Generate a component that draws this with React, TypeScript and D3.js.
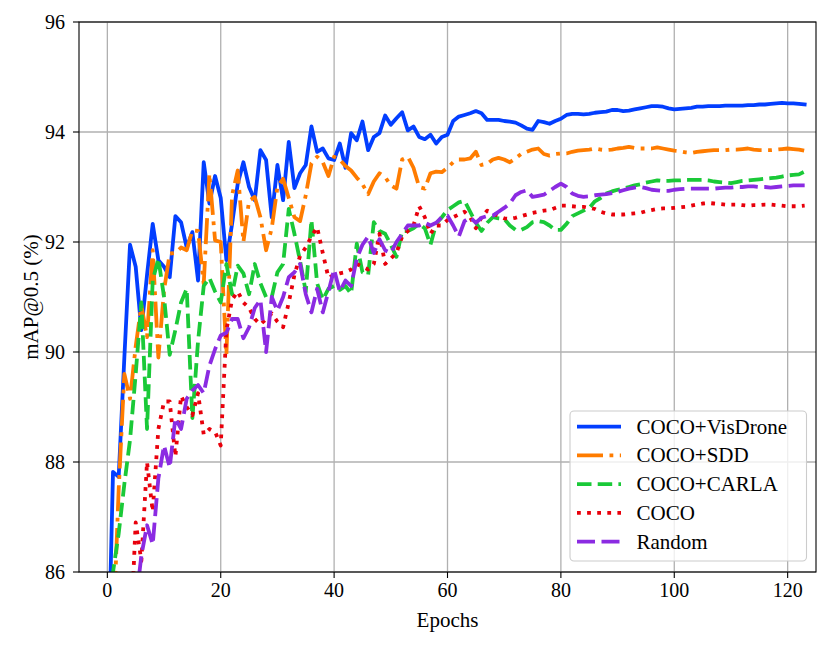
import * as d3 from 'd3';

// mAP@0.5 per epoch, index = epoch (0..123)
const cocoVisDrone = [
  83.5, 87.82, 87.73, 89.9, 91.95, 91.55, 90.4, 91.4, 92.33, 91.67,
  91.55, 91.36, 92.47, 92.36, 91.9, 92.18, 91.3, 93.45, 92.7, 93.2,
  92.8, 91.67, 92.33, 93.06, 93.45, 93.0, 92.76, 93.67, 93.49, 92.45,
  93.4, 92.76, 93.82, 92.98, 93.25, 93.4, 94.1, 93.64, 93.7, 93.52,
  93.49, 93.79, 93.35, 93.98, 93.85, 94.19, 93.67, 93.91, 93.98, 94.3,
  94.13, 94.25, 94.36, 94.03, 94.1, 93.91, 93.87, 93.95, 93.79, 93.91,
  93.95, 94.2, 94.28, 94.31, 94.34, 94.38, 94.34, 94.22, 94.22, 94.22,
  94.2, 94.19, 94.17, 94.12, 94.06, 94.04, 94.2, 94.18, 94.15, 94.2,
  94.24, 94.31, 94.33, 94.33, 94.32, 94.33, 94.35, 94.36, 94.37, 94.4,
  94.4, 94.38, 94.39, 94.41, 94.43, 94.45, 94.47, 94.47, 94.46, 94.43,
  94.41, 94.42, 94.43, 94.44, 94.46, 94.46, 94.47, 94.47, 94.47, 94.48,
  94.48, 94.48, 94.48, 94.49, 94.49, 94.5, 94.5, 94.51, 94.52, 94.53,
  94.52, 94.52, 94.51, 94.5,
];

const cocoSdd = [
  84.0, 84.8, 87.5, 89.6, 89.15, 90.1, 90.85, 90.27, 91.85, 89.9,
  91.12, 91.79, 91.8, 91.9, 91.85, 92.21, 92.2, 91.24, 93.24, 92.03,
  92.0, 89.95, 92.85, 93.3, 92.0, 92.75, 92.82, 92.45, 91.85, 92.25,
  93.0, 93.15, 92.8, 92.45, 92.38, 92.85, 93.43, 93.55, 93.45, 93.2,
  93.55, 93.5, 93.38, 93.3, 93.17, 93.05, 92.87, 93.1, 93.25, 93.18,
  93.03, 92.97, 93.5, 93.55, 93.35, 93.0, 92.97, 93.25, 93.28, 93.27,
  93.35, 93.45, 93.5, 93.5, 93.52, 93.64, 93.4, 93.42, 93.5, 93.53,
  93.5, 93.45, 93.52, 93.6, 93.64, 93.68, 93.7, 93.6, 93.57, 93.6,
  93.61, 93.61, 93.64, 93.66, 93.67, 93.68, 93.7, 93.68, 93.67, 93.68,
  93.7, 93.71, 93.73, 93.71, 93.7, 93.7, 93.7, 93.72, 93.7, 93.68,
  93.66, 93.65, 93.63, 93.62, 93.64, 93.65, 93.66, 93.67, 93.67, 93.67,
  93.68, 93.68, 93.69, 93.7, 93.68, 93.67, 93.67, 93.67, 93.68, 93.69,
  93.7, 93.69, 93.68, 93.66,
];

const cocoCarla = [
  84.0, 86.0, 86.7, 87.6, 88.4, 89.6, 90.9, 88.6, 91.3, 91.7,
  91.0, 89.95, 90.4, 90.9, 91.15, 88.8, 90.2, 91.2, 91.35, 91.1,
  90.9, 91.6, 91.05, 91.57, 91.43, 91.05, 91.6, 91.25, 91.0, 91.0,
  91.45, 91.6, 92.6, 92.15, 91.65, 91.1, 92.4, 91.25, 90.95, 91.15,
  91.2, 91.13, 91.2, 91.06, 91.97, 91.45, 91.4, 92.36, 92.2, 92.15,
  91.95, 91.73, 92.2, 92.2, 92.25, 92.33, 92.25, 91.95, 92.33, 92.45,
  92.58, 92.65, 92.72, 92.75, 92.55, 92.35, 92.2, 92.35, 92.45, 92.43,
  92.42, 92.3, 92.22, 92.22, 92.27, 92.36, 92.38, 92.36, 92.3, 92.22,
  92.22, 92.33, 92.47, 92.52, 92.57, 92.62, 92.74, 92.8, 92.88, 92.92,
  92.95, 92.97, 93.0, 93.03, 93.05, 93.08, 93.1, 93.12, 93.11, 93.11,
  93.12, 93.12, 93.13, 93.13, 93.13, 93.13, 93.12, 93.1, 93.09, 93.08,
  93.07, 93.09, 93.11, 93.12, 93.13, 93.14, 93.15, 93.16, 93.17, 93.19,
  93.21, 93.22, 93.23, 93.28,
];

const coco = [
  82.5, 83.0, 83.5, 84.0, 84.6, 86.9, 86.2, 88.0, 87.1, 88.6,
  89.1, 89.1, 88.1, 89.2, 89.0, 88.85, 89.25, 88.5, 88.6, 88.55,
  88.3, 90.4, 90.95, 91.1, 90.9, 90.8, 90.6, 90.5, 90.6, 90.7,
  90.55, 90.45, 90.9, 91.4, 91.75, 91.9, 92.1, 92.27, 91.8, 91.35,
  91.4, 91.43, 91.45, 91.5, 91.6, 91.55, 91.5, 91.6, 92.15, 91.6,
  91.7, 91.8, 92.1, 92.2, 92.3, 92.65, 92.45, 92.15, 92.3, 92.3,
  92.4, 92.45, 92.5, 92.55, 92.45, 92.25, 92.45, 92.57, 92.52, 92.47,
  92.43, 92.42, 92.44, 92.47, 92.5, 92.53, 92.55, 92.57, 92.58, 92.62,
  92.66, 92.66, 92.65, 92.64, 92.64, 92.62, 92.6, 92.55, 92.52, 92.5,
  92.5, 92.5, 92.51, 92.52, 92.53, 92.56, 92.58, 92.6, 92.61, 92.61,
  92.62, 92.63, 92.64, 92.66, 92.68, 92.7, 92.71, 92.7, 92.69, 92.68,
  92.68, 92.68, 92.67, 92.66, 92.67, 92.67, 92.68, 92.68, 92.67, 92.66,
  92.65, 92.65, 92.65, 92.66,
];

const random = [
  82.0, 82.5, 83.0, 83.5, 84.3, 85.4, 86.3, 86.85, 86.5, 87.7,
  88.3, 87.9, 88.8, 88.6, 89.15, 89.3, 89.4, 89.25, 89.75, 90.05,
  90.3, 90.35, 90.6, 90.6, 90.25, 90.45, 90.8, 90.95, 90.0, 91.0,
  90.75, 91.0, 91.36, 91.45, 91.6, 91.05, 90.72, 91.15, 90.72, 91.1,
  91.5, 91.1, 91.3, 91.2, 91.7, 91.95, 92.1, 91.8, 92.05, 91.85,
  91.8, 92.0, 92.15, 92.3, 92.3, 92.3, 92.35, 92.3, 92.35, 92.45,
  92.48, 92.3, 92.1, 92.38, 92.45, 92.35, 92.44, 92.47, 92.48, 92.55,
  92.62, 92.7, 92.85, 92.91, 92.94, 92.82, 92.84, 92.86, 92.93, 93.0,
  93.06, 93.0, 92.88, 92.84, 92.82, 92.83, 92.85, 92.86, 92.87, 92.89,
  92.91, 92.94, 92.97, 92.99, 93.0, 92.98, 92.95, 92.94, 92.93, 92.93,
  92.95, 92.96, 92.97, 92.97, 92.97, 92.97, 92.97, 92.97, 92.98, 92.99,
  92.99, 93.0, 93.0, 93.01, 93.01, 93.0, 93.0, 92.99, 93.0, 93.01,
  93.02, 93.03, 93.03, 93.03,
];

const xTicks = [0, 20, 40, 60, 80, 100, 120];
const yTicks = [86, 88, 90, 92, 94, 96];

const series = [
  { name: 'COCO+VisDrone', values: cocoVisDrone, color: '#023eff', dash: undefined as string | undefined },
  { name: 'COCO+SDD', values: cocoSdd, color: '#ff7c00', dash: '26,6.5,3.8,6.5' },
  { name: 'COCO+CARLA', values: cocoCarla, color: '#1ac938', dash: '14.5,6.2' },
  { name: 'COCO', values: coco, color: '#e8000b', dash: '3.8,6.3' },
  { name: 'Random', values: random, color: '#8b2be2', dash: '18,6.5' },
];

const W = 831;
const H = 646;
const left = 79;
const right = 816;
const top = 22;
const bottom = 572;
const serif = { fontFamily: "'Liberation Serif', 'DejaVu Serif', serif" };

export default function App() {
  const x = d3.scaleLinear().domain([-5, 125]).range([left, right]);
  const y = d3.scaleLinear().domain([86, 96]).range([bottom, top]);

  const line = d3
    .line<number>()
    .x((_, i) => x(i))
    .y((d) => y(d));

  const lw = 3.8;
  const legX = 570;
  const legY = 411;
  const rowH = 28.75;

  return (
    <svg
      width={W}
      height={H}
      style={{ position: 'absolute', left: 0, top: 0, background: '#fff' }}
    >
      <defs>
        <clipPath id="plot">
          <rect x={left} y={top} width={right - left} height={bottom - top} />
        </clipPath>
      </defs>

      {/* grid */}
      <g stroke="#b0b0b0" strokeWidth={1.3}>
        {xTicks.map((t) => (
          <line key={'gx' + t} x1={x(t)} x2={x(t)} y1={top} y2={bottom} />
        ))}
        {yTicks.map((t) => (
          <line key={'gy' + t} x1={left} x2={right} y1={y(t)} y2={y(t)} />
        ))}
      </g>

      {/* series */}
      <g clipPath="url(#plot)" fill="none">
        {series.map((s) => (
          <path
            key={s.name}
            d={line(s.values) || ''}
            stroke={s.color}
            strokeWidth={lw}
            strokeDasharray={s.dash}
            strokeLinejoin="round"
            strokeLinecap={s.dash ? 'butt' : 'square'}
          />
        ))}
      </g>

      {/* frame */}
      <rect
        x={left}
        y={top}
        width={right - left}
        height={bottom - top}
        fill="none"
        stroke="#000"
        strokeWidth={1.1}
      />

      {/* x axis */}
      <g>
        {xTicks.map((t) => (
          <g key={'xt' + t}>
            <line x1={x(t)} x2={x(t)} y1={bottom} y2={bottom + 6} stroke="#000" strokeWidth={1.1} />
            <text x={x(t)} y={bottom + 25} textAnchor="middle" fontSize={20} style={serif}>
              {t}
            </text>
          </g>
        ))}
        <text x={(left + right) / 2} y={627} textAnchor="middle" fontSize={21} style={serif}>
          Epochs
        </text>
      </g>

      {/* y axis */}
      <g>
        {yTicks.map((t) => (
          <g key={'yt' + t}>
            <line x1={left - 6} x2={left} y1={y(t)} y2={y(t)} stroke="#000" strokeWidth={1.1} />
            <text x={left - 14} y={y(t) + 6.5} textAnchor="end" fontSize={20} style={serif}>
              {t}
            </text>
          </g>
        ))}
        <text
          transform={`translate(38, ${(top + bottom) / 2}) rotate(-90)`}
          textAnchor="middle"
          fontSize={21}
          style={serif}
        >
          mAP@0.5 (%)
        </text>
      </g>

      {/* legend */}
      <g>
        <rect
          x={legX}
          y={legY}
          width={236.5}
          height={150}
          rx={4}
          fill="#fff"
          fillOpacity={0.8}
          stroke="#cccccc"
          strokeWidth={1.1}
        />
        {series.map((s, i) => {
          const cy = 426.7 + i * rowH;
          return (
            <g key={'lg' + s.name}>
              <line
                x1={577}
                x2={621}
                y1={cy}
                y2={cy}
                stroke={s.color}
                strokeWidth={lw}
                strokeDasharray={s.dash}
                strokeLinecap="butt"
              />
              <text x={636.5} y={cy + 7} fontSize={21} style={serif}>
                {s.name}
              </text>
            </g>
          );
        })}
      </g>
    </svg>
  );
}
